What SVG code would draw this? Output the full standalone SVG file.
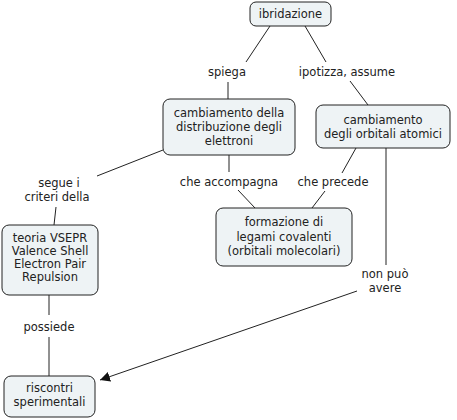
<svg xmlns="http://www.w3.org/2000/svg" width="457" height="420" viewBox="0 0 457 420">
<style>
.n rect{fill:#eef3f5;stroke:#222;stroke-width:1}
text{font-family:"DejaVu Sans",Verdana,sans-serif;font-size:11.5px;fill:#222;text-anchor:middle}
.c line{stroke:#222;stroke-width:1}
</style>
<defs>
<marker id="ah" viewBox="0 0 10 10" refX="10" refY="5" markerWidth="10" markerHeight="10" markerUnits="userSpaceOnUse" orient="auto"><path d="M0,0 L10,5 L0,10 z" fill="#111"/></marker>
</defs>
<rect width="457" height="420" fill="#fff"/>
<g class="c">
<line x1="270" y1="26" x2="246" y2="62"/>
<line x1="228" y1="82" x2="228" y2="99"/>
<line x1="305" y1="26" x2="326" y2="62"/>
<line x1="350" y1="81" x2="368" y2="105"/>
<line x1="163" y1="150" x2="97" y2="176"/>
<line x1="56" y1="207" x2="54" y2="225"/>
<line x1="229" y1="155" x2="229" y2="172"/>
<line x1="238" y1="190" x2="255" y2="208"/>
<line x1="356" y1="148" x2="342" y2="173"/>
<line x1="325" y1="191" x2="312" y2="208"/>
<line x1="386" y1="148" x2="386" y2="265"/>
<line x1="357" y1="291" x2="100" y2="380" marker-end="url(#ah)"/>
<line x1="49" y1="295" x2="49" y2="315"/>
<line x1="49" y1="337" x2="49" y2="376"/>
</g>
<g id="lbl">
<text x="227" y="76">spiega</text>
<text x="347" y="76">ipotizza, assume</text>
<text x="59" y="187">segue i</text>
<text x="57" y="201">criteri della</text>
<text x="229" y="186">che accompagna</text>
<text x="333" y="186">che precede</text>
<text x="385" y="278">non può</text>
<text x="385" y="292">avere</text>
<text x="49" y="331">possiede</text>
</g>
<g id="ibridazione" class="n"><rect x="250" y="2" width="81" height="24" rx="6"/><text x="290.5" y="18">ibridazione</text></g>
<g id="distribuzione" class="n"><rect x="163" y="99" width="132" height="56" rx="7"/><text x="229" y="117">cambiamento della</text><text x="229" y="131">distribuzione degli</text><text x="229" y="145">elettroni</text></g>
<g id="orbitali" class="n"><rect x="316" y="105" width="134" height="43" rx="7"/><text x="383" y="124">cambiamento</text><text x="383" y="138">degli orbitali atomici</text></g>
<g id="formazione" class="n"><rect x="216" y="208" width="136" height="58" rx="7"/><text x="284" y="226">formazione di</text><text x="284" y="241">legami covalenti</text><text x="284" y="255">(orbitali molecolari)</text></g>
<g id="vsepr" class="n"><rect x="2" y="225" width="96" height="70" rx="7"/><text x="50" y="242">teoria VSEPR</text><text x="50" y="255">Valence Shell</text><text x="50" y="268">Electron Pair</text><text x="50" y="281">Repulsion</text></g>
<g id="riscontri" class="n"><rect x="4" y="376" width="91" height="41" rx="7"/><text x="49.5" y="392">riscontri</text><text x="49.5" y="405.5">sperimentali</text></g>
</svg>
